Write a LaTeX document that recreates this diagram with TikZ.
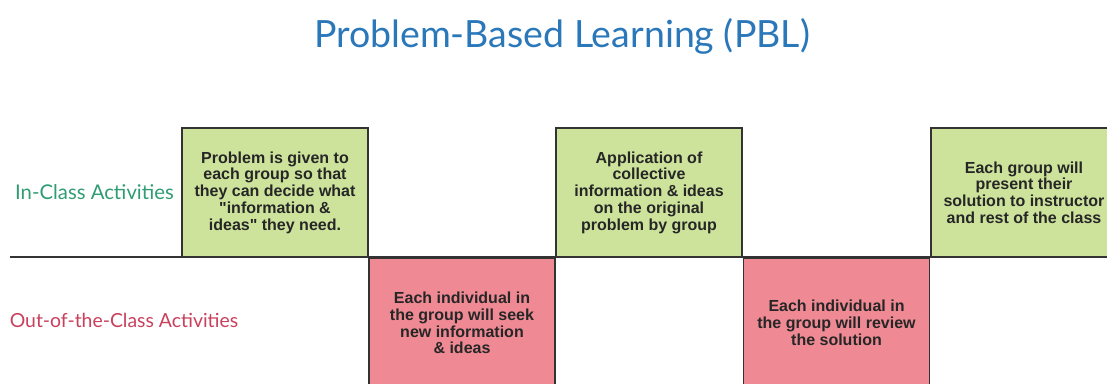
\documentclass[tikz,border=0pt]{standalone}
\usepackage{fontspec}
\setmainfont{Liberation Sans}
\newfontfamily\handfont{Lato}
\usetikzlibrary{positioning}

\definecolor{boxgreen}{HTML}{CDE39C}
\definecolor{boxred}{HTML}{EF8A94}
\definecolor{titleblue}{HTML}{2A78BA}
\definecolor{ingreen}{HTML}{2F9C74}
\definecolor{outred}{HTML}{C9405C}
\definecolor{edgegray}{HTML}{333333}

\tikzset{
  actbox/.style={draw=edgegray, line width=1.6pt, minimum width=186pt,
    minimum height=129pt, inner sep=0pt, align=center, text=black!85,
    font=\bfseries\fontsize{16}{16.8}\selectfont},
  inbox/.style={actbox, fill=boxgreen},
  outbox/.style={actbox, fill=boxred},
  lanelabel/.style={font=\handfont\fontsize{20}{22}\selectfont},
}

\begin{document}
\begin{tikzpicture}[x=1pt,y=-1pt]
\useasboundingbox (0,0) rectangle (1107,383);
\clip (0,0) rectangle (1107,383);
\fill[white] (0,0) rectangle (1107,383);

\node[text=titleblue, font=\handfont\fontsize{37.5}{38}\selectfont] (title) at (562,36) {Problem-Based Learning (PBL)};

% lane labels
\node[lanelabel, text=ingreen, font=\handfont\fontsize{20.3}{22}\selectfont] (inclass) at (94.5,192) {In-Class Activities};
\node[lanelabel, text=outred, font=\handfont\fontsize{19.4}{22}\selectfont] (outclass) at (124,320) {Out-of-the-Class Activities};

% divider between the two lanes
\coordinate (lineL) at (10,257);
\coordinate (lineR) at (1107,257);
\draw[edgegray, line width=1.6pt] (lineL) -- (lineR);

% activities
\node[inbox] (given) at (275,192.5) {Problem is given to\\each group so that\\they can decide what\\\textquotedbl information \&\\ideas\textquotedbl\ they need.};
\node[outbox] (seek) at (462,323) {Each individual in\\the group will seek\\new information\\\& ideas};
\node[inbox] (apply) at (649,192.5) {Application of\\collective\\information \& ideas\\on the original\\problem by group};
\node[outbox] (review) at (836.5,323) {Each individual in\\the group will review\\the solution};
\node[inbox] (present) at (1024,192.5) {Each group will\\present their\\solution to instructor\\and rest of the class};

\end{tikzpicture}
\end{document}
